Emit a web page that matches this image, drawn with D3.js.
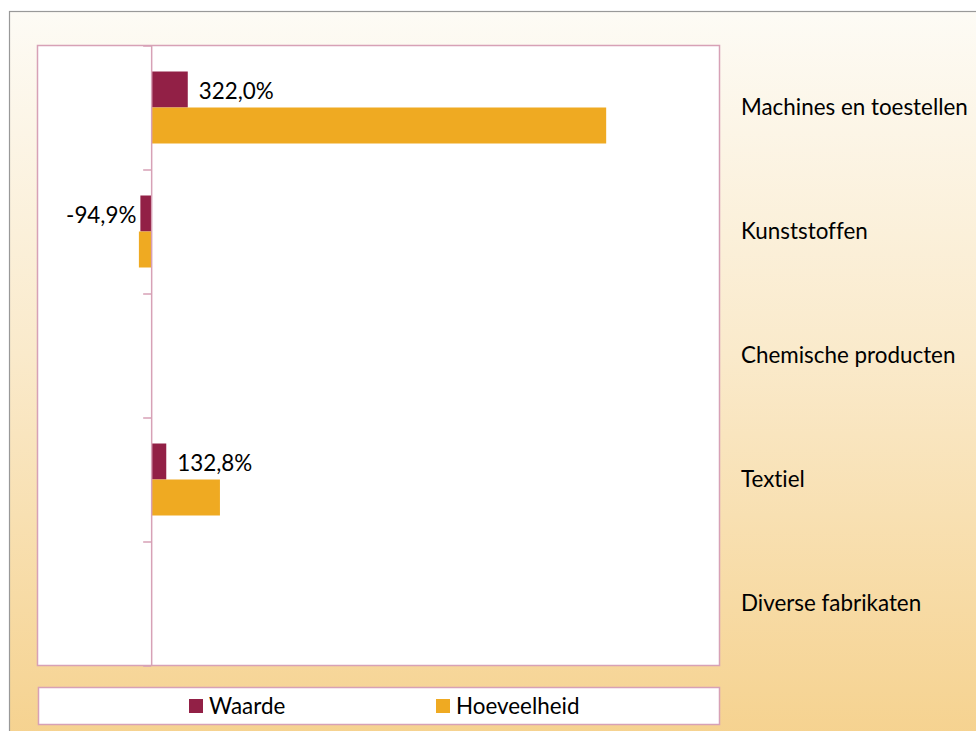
<!DOCTYPE html>
<html>
<head>
<meta charset="utf-8">
<script src="https://cdn.jsdelivr.net/npm/d3@7"></script>
<style>
  body { margin: 0; background: #fff; }
  text { font-family: Lato, "Open Sans", sans-serif; fill: #000; font-variant-ligatures: none; font-feature-settings: "liga" 0, "clig" 0; }
</style>
</head>
<body>
<script>
var categories = ['Machines en toestellen', 'Kunststoffen', 'Chemische producten', 'Textiel', 'Diverse fabrikaten'];
var series = ['Waarde', 'Hoeveelheid'];
var waarde = [322.0, -94.9, null, 132.8, null];
var hoeveelheid = [4003, -108, null, 605, null];
var colors = ['#922046', '#EFAA22'];

var width = 976, height = 731;
var fontSize = 22.4;
var svg = d3.select('body').append('svg').attr('width', width).attr('height', height);

// background gradient
var grad = svg.append('defs').append('linearGradient')
  .attr('id', 'bg').attr('x1', 0).attr('y1', 0).attr('x2', 0).attr('y2', 1);
grad.append('stop').attr('offset', '0%').attr('stop-color', '#FDFBF5');
grad.append('stop').attr('offset', '45%').attr('stop-color', '#FAEACB');
grad.append('stop').attr('offset', '100%').attr('stop-color', '#F5D08A');

svg.append('rect')
  .attr('x', 9.5).attr('y', 11.5)
  .attr('width', 1000).attr('height', 760)
  .attr('fill', 'url(#bg)')
  .attr('stroke', '#999').attr('stroke-width', 1.2);

// plot area
var pLeft = 37.5, pRight = 719.5, pTop = 45.5, pBottom = 665.5;
svg.append('rect')
  .attr('x', pLeft).attr('y', pTop)
  .attr('width', pRight - pLeft).attr('height', pBottom - pTop)
  .attr('fill', '#fff')
  .attr('stroke', '#D7A1B6').attr('stroke-width', 1.5);

var x = d3.scaleLinear().domain([-1000, 5000]).range([pLeft, pRight]);
var y0 = d3.scaleBand().domain(categories).range([pTop, pBottom]);
var bw = y0.bandwidth();
var y1 = d3.scaleBand().domain(series).range([bw / 2 - 36, bw / 2 + 36]);

var rows = categories.map(function(c, i) {
  return { cat: c, values: [waarde[i], hoeveelheid[i]] };
});

var groups = svg.selectAll('g.cat').data(rows)
  .enter().append('g')
  .attr('class', 'cat')
  .attr('transform', function(d) { return 'translate(0,' + y0(d.cat) + ')'; });

groups.selectAll('rect')
  .data(function(d) {
    return series.map(function(s, j) { return { s: s, v: d.values[j], j: j }; })
      .filter(function(e) { return e.v != null; });
  })
  .enter().append('rect')
  .attr('x', function(d) { return x(Math.min(0, d.v)); })
  .attr('y', function(d) { return y1(d.s); })
  .attr('width', function(d) { return Math.abs(x(d.v) - x(0)); })
  .attr('height', y1.bandwidth())
  .attr('fill', function(d) { return colors[d.j]; });

// axis at zero
var tickScale = d3.scaleLinear().domain([0, categories.length]).range([pTop, pBottom]);
svg.append('g')
  .attr('transform', 'translate(' + x(0) + ',0)')
  .call(d3.axisLeft(tickScale).ticks(categories.length).tickFormat('').tickSize(8).tickSizeOuter(0))
  .call(function(g) {
    g.selectAll('line, path').attr('stroke', '#D7A1B6').attr('stroke-width', 1.5);
  });

// data labels (Waarde)
var nl = d3.formatLocale({ decimal: ',', thousands: '.', grouping: [3], currency: ['€', ''], minus: '-' });
var fmt = nl.format('.1f');
groups.filter(function(d) { return d.values[0] != null; })
  .append('text')
  .attr('x', function(d) { return d.values[0] >= 0 ? x(d.values[0]) + 11 : x(d.values[0]) - 4; })
  .attr('y', function(d) { return y1('Waarde') + y1.bandwidth() / 2 + 2; })
  .attr('dy', '0.35em')
  .attr('text-anchor', function(d) { return d.values[0] >= 0 ? 'start' : 'end'; })
  .attr('font-size', fontSize)
  .text(function(d) { return fmt(d.values[0]) + '%'; });

// category labels
svg.selectAll('text.catlabel').data(categories)
  .enter().append('text')
  .attr('class', 'catlabel')
  .attr('x', 741)
  .attr('y', function(d) { return y0(d) + bw / 2; })
  .attr('dy', '0.35em')
  .attr('font-size', fontSize)
  .text(function(d) { return d; });

// legend
svg.append('rect')
  .attr('x', 38.5).attr('y', 687.5)
  .attr('width', 681).attr('height', 37)
  .attr('fill', '#fff')
  .attr('stroke', '#D7A1B6').attr('stroke-width', 1.5);

var legendX = [189, 436];
var leg = svg.selectAll('g.leg').data(series)
  .enter().append('g')
  .attr('class', 'leg')
  .attr('transform', function(d, i) { return 'translate(' + legendX[i] + ',699)'; });
leg.append('rect')
  .attr('width', 14).attr('height', 14)
  .attr('fill', function(d, i) { return colors[i]; });
leg.append('text')
  .attr('x', 20).attr('y', 7).attr('dy', '0.35em')
  .attr('font-size', fontSize)
  .text(function(d) { return d; });
</script>
</body>
</html>
